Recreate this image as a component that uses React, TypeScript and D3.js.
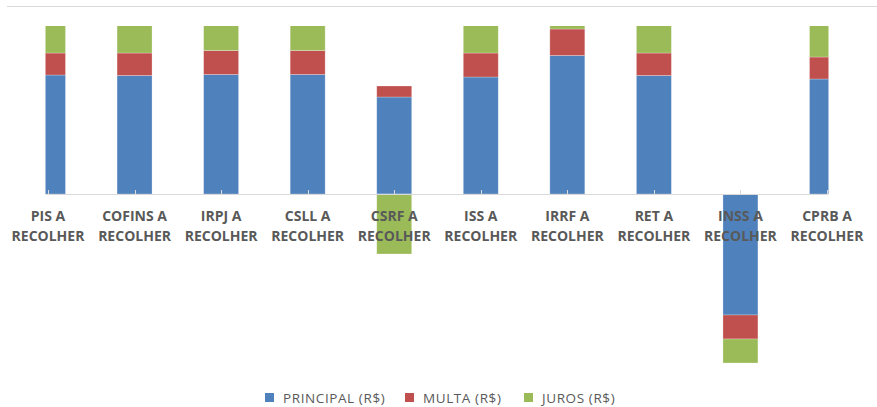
import React from "react";
import * as d3 from "d3";

const categories = [
  "PIS A RECOLHER",
  "COFINS A RECOLHER",
  "IRPJ A RECOLHER",
  "CSLL A RECOLHER",
  "CSRF A RECOLHER",
  "ISS A RECOLHER",
  "IRRF A RECOLHER",
  "RET A RECOLHER",
  "INSS A RECOLHER",
  "CPRB A RECOLHER",
];

const seriesNames = ["PRINCIPAL (R$)", "MULTA (R$)", "JUROS (R$)"];
const seriesColors = ["#4F81BD", "#C0504D", "#9BBB59"];

const principal = [119000, 118500, 119500, 119500, 97000, 117000, 138500, 118500, -121000, 115000];
const multa = [22000, 22500, 24000, 24000, 11000, 24000, 26500, 22500, -24000, 22000];
const juros = [40000, 40000, 40000, 40000, -60000, 40000, 8000, 40000, -24000, 40000];

const yMin = -170000;
const yMax = 168000;

const W = 877;
const H = 407;

const App: React.FC = () => {
  const keys = ["principal", "multa", "juros"];
  const rows = categories.map((c, i) => ({
    cat: c,
    principal: principal[i],
    multa: multa[i],
    juros: juros[i],
  }));

  const stack = d3
    .stack<any>()
    .keys(keys)
    .offset(d3.stackOffsetDiverging);
  const layers = stack(rows);

  // plot area (bars at the ends are half clipped, as in the original)
  const plot = { left: 45.5, right: 828.5, top: 26, bottom: 407 };
  const step = (827 - 48) / (categories.length - 1);

  const x = d3
    .scaleBand<string>()
    .domain(categories)
    .range([48 - step / 2, 827 + step / 2])
    .paddingInner(0.596)
    .paddingOuter(0.298);

  const y = d3.scaleLinear().domain([yMin, yMax]).range([364, 26]);
  const y0 = y(0);

  const labelFont = "'Open Sans', 'Liberation Sans', sans-serif";

  const legendItems = [
    { x: 265, textX: 283 },
    { x: 405, textX: 423 },
    { x: 524, textX: 542 },
  ];

  return (
    <svg width={W} height={H} style={{ position: "absolute", left: 0, top: 0 }}>
      <rect width={W} height={H} fill="#ffffff" />
      <line x1={7} x2={W} y1={6.5} y2={6.5} stroke="#d9d9d9" strokeWidth={1} />

      <defs>
        <clipPath id="plot-clip">
          <rect
            x={plot.left}
            y={plot.top}
            width={plot.right - plot.left}
            height={plot.bottom - plot.top}
          />
        </clipPath>
      </defs>

      <g clipPath="url(#plot-clip)">
        {layers.map((layer, li) => (
          <g key={layer.key} fill={seriesColors[li]}>
            {layer.map((d, i) => {
              const top = y(Math.max(d[0], d[1]));
              const bot = y(Math.min(d[0], d[1]));
              return (
                <rect
                  key={i}
                  x={x(categories[i])}
                  y={top}
                  width={x.bandwidth()}
                  height={Math.max(0, bot - top)}
                  stroke="#ffffff"
                  strokeOpacity={0.35}
                  strokeWidth={0.75}
                />
              );
            })}
          </g>
        ))}
      </g>

      {/* category axis */}
      <line
        x1={plot.left}
        x2={plot.right}
        y1={y0 + 0.5}
        y2={y0 + 0.5}
        stroke="#d9d9d9"
        strokeWidth={1}
      />
      {categories.map((c) => {
        const cx = Math.round((x(c) as number) + x.bandwidth() / 2) + 0.5;
        return (
          <line key={c} x1={cx} x2={cx} y1={y0 - 4} y2={y0 + 0.5} stroke="#d9d9d9" />
        );
      })}

      {categories.map((c) => {
        const cx = (x(c) as number) + x.bandwidth() / 2;
        const idx = c.lastIndexOf(" ");
        const lines = [c.slice(0, idx), c.slice(idx + 1)];
        return (
          <text
            key={c}
            x={cx}
            textAnchor="middle"
            fontFamily={labelFont}
            fontWeight="bold"
            fontSize={14}
            fill="#595959"
          >
            {lines.map((t, k) => (
              <tspan key={k} x={cx} y={221 + k * 20}>
                {t}
              </tspan>
            ))}
          </text>
        );
      })}

      {/* legend */}
      {seriesNames.map((name, i) => (
        <g key={name}>
          <rect x={legendItems[i].x} y={393} width={9} height={9} fill={seriesColors[i]} />
          <text
            x={legendItems[i].textX}
            y={403}
            fontFamily={labelFont}
            fontSize={13.5}
            fill="#595959"
            letterSpacing={0.6}
          >
            {name}
          </text>
        </g>
      ))}
    </svg>
  );
};

export default App;
